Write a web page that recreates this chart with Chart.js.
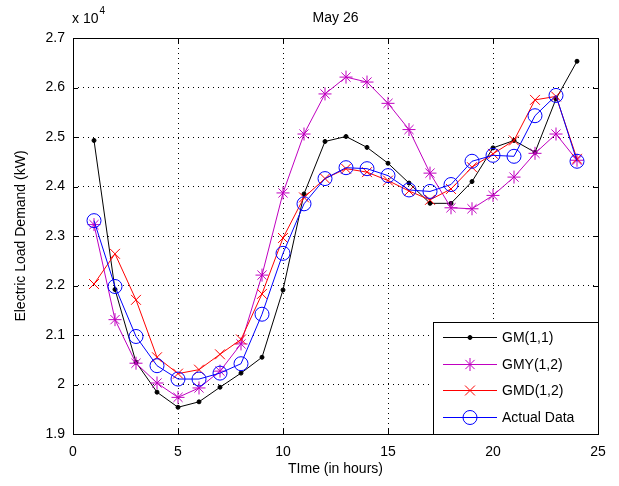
<!DOCTYPE html>
<html>
<head>
<meta charset="utf-8">
<script src="https://cdn.jsdelivr.net/npm/chart.js@4"></script>
<style>
  body { margin: 0; background: #fff; }
  canvas { display: block; }
</style>
</head>
<body>
<canvas id="grafik" width="619" height="486"></canvas>
<script>
// =====================================================
// DATA (kW)
// =====================================================
const jam = [1,2,3,4,5,6,7,8,9,10,11,12,13,14,15,16,17,18,19,20,21,22,23,24];

const gm11 = [24930,21920,20450,19845,19540,19650,19945,20230,20550,21910,23850,24910,
              25010,24790,24470,24070,23660,23660,24100,24780,24930,24690,25770,26530];

const gmy12 = [23230,21310,20430,20030,19740,19930,20270,20820,22210,23870,25060,25870,
               26210,26110,25680,25150,24270,23570,23550,23820,24190,24670,25060,24530];

const gmd12 = [22030,22640,21710,20550,20220,20300,20610,20910,21830,22960,23780,24160,
               24360,24290,24120,23910,23730,23950,24390,24660,24930,25750,25820,24560];

const aktual = [23310,21980,20970,20380,20110,20110,20230,20420,21420,22650,23650,24160,
                24380,24360,24220,23930,23900,24040,24510,24630,24610,25430,25840,24510];

const xTicks = [0, 5, 10, 15, 20, 25];
const yTicks = [19000, 20000, 21000, 22000, 23000, 24000, 25000, 26000, 27000];

const FONT = 'Arial, "Liberation Sans", Helvetica, sans-serif';

function titik(arr) {
    return arr.map((v, i) => ({ x: jam[i], y: v }));
}

// =====================================================
// PLUGIN: kotak, tick ke dalam, judul, legenda
// =====================================================
const hiasan = {
    id: 'hiasan',
    afterDraw(chart) {
        const ctx = chart.ctx;
        const a = chart.chartArea;
        const sx = chart.scales.x;
        const sy = chart.scales.y;

        ctx.save();
        ctx.strokeStyle = '#000';
        ctx.lineWidth = 1;
        ctx.setLineDash([]);

        // tick marks inward
        ctx.beginPath();
        xTicks.forEach(t => {
            const px = Math.round(sx.getPixelForValue(t)) + 0.5;
            ctx.moveTo(px, a.bottom); ctx.lineTo(px, a.bottom - 5);
            ctx.moveTo(px, a.top); ctx.lineTo(px, a.top + 5);
        });
        yTicks.forEach(t => {
            const py = Math.round(sy.getPixelForValue(t)) + 0.5;
            ctx.moveTo(a.left, py); ctx.lineTo(a.left + 5, py);
            ctx.moveTo(a.right, py); ctx.lineTo(a.right - 5, py);
        });
        ctx.stroke();

        // box
        ctx.strokeRect(Math.round(a.left) + 0.5, Math.round(a.top) + 0.5,
                       Math.round(a.right - a.left), Math.round(a.bottom - a.top));

        // title
        ctx.fillStyle = '#000';
        ctx.font = '14px ' + FONT;
        ctx.textAlign = 'center';
        ctx.textBaseline = 'middle';
        ctx.fillText('May 26', (a.left + a.right) / 2, 18);

        // x 10^4
        ctx.textAlign = 'left';
        ctx.fillText('x 10', 72, 19);
        const lebar = ctx.measureText('x 10').width;
        ctx.font = '10px ' + FONT;
        ctx.fillText('4', 72 + lebar + 1, 11);

        // legend
        const lx = 433, ly = 322, lw = a.right - 433, lh = a.bottom - 322;
        ctx.fillStyle = '#fff';
        ctx.fillRect(lx, ly, lw, lh);
        ctx.strokeStyle = '#000';
        ctx.strokeRect(lx + 0.5, ly + 0.5, lw, lh);

        const barisY = [337, 364, 390, 417];
        chart.data.datasets.forEach((ds, k) => {
            const y = barisY[k];
            ctx.strokeStyle = ds.borderColor;
            ctx.lineWidth = 1;
            ctx.beginPath();
            ctx.moveTo(443, y + 0.5);
            ctx.lineTo(497, y + 0.5);
            ctx.stroke();
            ctx.strokeStyle = ds.pointBorderColor;
            ctx.fillStyle = ds.pointBackgroundColor;
            Chart.helpers.drawPoint(ctx, {
                pointStyle: ds.pointStyle,
                radius: ds.pointRadius,
                rotation: 0,
                borderWidth: 1
            }, 470, y + 0.5);
            ctx.fillStyle = '#000';
            ctx.font = '14px ' + FONT;
            ctx.textAlign = 'left';
            ctx.textBaseline = 'middle';
            ctx.fillText(ds.label, 502, y + 1);
        });

        ctx.restore();
    }
};

// =====================================================
// GRAFIK
// =====================================================
const ctx = document.getElementById('grafik').getContext('2d');

new Chart(ctx, {
    type: 'line',
    data: {
        datasets: [
            {
                label: 'GM(1,1)',
                data: titik(gm11),
                borderColor: '#000000',
                borderWidth: 1,
                pointStyle: 'circle',
                pointRadius: 2,
                pointBackgroundColor: '#000000',
                pointBorderColor: '#000000',
                order: 3
            },
            {
                label: 'GMY(1,2)',
                data: titik(gmy12),
                borderColor: '#c000c0',
                borderWidth: 1,
                pointStyle: 'star',
                pointRadius: 6.5,
                pointBackgroundColor: 'rgba(0,0,0,0)',
                pointBorderColor: '#c000c0',
                order: 2
            },
            {
                label: 'GMD(1,2)',
                data: titik(gmd12),
                borderColor: '#ff0000',
                borderWidth: 1,
                pointStyle: 'crossRot',
                pointRadius: 7,
                pointBackgroundColor: 'rgba(0,0,0,0)',
                pointBorderColor: '#ff0000',
                order: 1
            },
            {
                label: 'Actual Data',
                data: titik(aktual),
                borderColor: '#0000ff',
                borderWidth: 1,
                pointStyle: 'circle',
                pointRadius: 7,
                pointBackgroundColor: 'rgba(0,0,0,0)',
                pointBorderColor: '#0000ff',
                order: 0
            }
        ]
    },
    options: {
        responsive: false,
        animation: false,
        layout: {
            padding: { left: 0, right: 21, top: 38, bottom: 0 }
        },
        plugins: {
            legend: { display: false },
            tooltip: { enabled: false }
        },
        scales: {
            x: {
                type: 'linear',
                min: 0,
                max: 25,
                afterFit(scale) { scale.height = 52; },
                afterBuildTicks(scale) { scale.ticks = xTicks.map(v => ({ value: v })); },
                grid: {
                    color: '#000',
                    drawTicks: false,
                    lineWidth: 1
                },
                border: { display: false, dash: [1, 4] },
                ticks: {
                    color: '#000',
                    padding: 10,
                    font: { family: FONT, size: 14 },
                    maxRotation: 0
                },
                title: {
                    display: true,
                    text: 'TIme (in hours)',
                    color: '#000',
                    font: { family: FONT, size: 14 },
                    padding: { top: 0, bottom: 8 }
                }
            },
            y: {
                min: 19000,
                max: 27000,
                afterFit(scale) { scale.width = 73; },
                afterBuildTicks(scale) { scale.ticks = yTicks.map(v => ({ value: v })); },
                grid: {
                    color: '#000',
                    drawTicks: false,
                    lineWidth: 1
                },
                border: { display: false, dash: [1, 4] },
                ticks: {
                    color: '#000',
                    padding: 8,
                    font: { family: FONT, size: 14 },
                    callback: v => String(Number((v / 1e4).toFixed(1)))
                },
                title: {
                    display: true,
                    text: 'Electric Load Demand (kW)',
                    color: '#000',
                    font: { family: FONT, size: 14 },
                    padding: { top: 13, bottom: 0 }
                }
            }
        }
    },
    plugins: [hiasan]
});
</script>
</body>
</html>
